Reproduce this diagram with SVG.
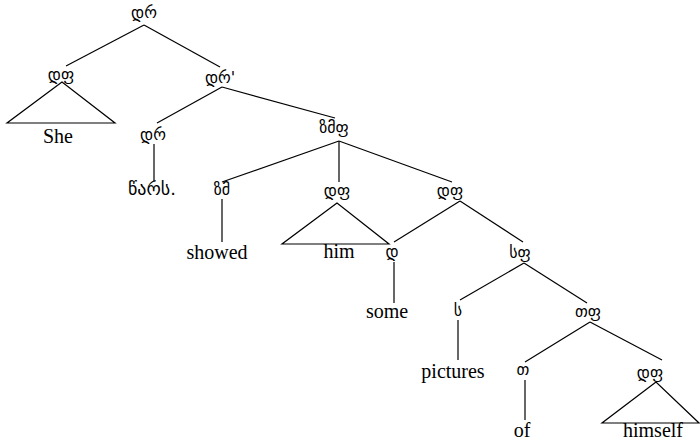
<svg xmlns="http://www.w3.org/2000/svg" width="700" height="442" viewBox="0 0 700 442">
<style>
.lbl{font-family:"DejaVu Sans",sans-serif;font-size:16px;text-anchor:middle;fill:#000}
.leaf{font-family:"Liberation Serif",serif;font-size:20px;text-anchor:middle;fill:#000}
.geo{font-family:"DejaVu Sans",sans-serif;font-size:18px;text-anchor:middle;fill:#000}
.edge{stroke:#000;stroke-width:1.2;fill:none}
</style>
<rect width="700" height="442" fill="#fff"/>
<g id="connectors">
<line class="edge" x1="144" y1="25" x2="66" y2="66"/>
<line class="edge" x1="144" y1="25" x2="220" y2="67"/>
<polygon class="edge" points="62,82 7,123 115,123"/>
<line class="edge" x1="222" y1="87" x2="157" y2="123"/>
<line class="edge" x1="222" y1="87" x2="335" y2="118"/>
<line class="edge" x1="154" y1="144" x2="154" y2="181"/>
<line class="edge" x1="339" y1="141" x2="222" y2="182"/>
<line class="edge" x1="339" y1="141" x2="339" y2="182"/>
<line class="edge" x1="339" y1="141" x2="452" y2="182"/>
<line class="edge" x1="222" y1="199" x2="222" y2="242"/>
<polygon class="edge" points="337,203 282,244 389,244"/>
<line class="edge" x1="460" y1="201" x2="394" y2="242"/>
<line class="edge" x1="460" y1="201" x2="523" y2="242"/>
<line class="edge" x1="394" y1="262" x2="394" y2="303"/>
<line class="edge" x1="524" y1="263" x2="460" y2="300"/>
<line class="edge" x1="524" y1="263" x2="587" y2="303"/>
<line class="edge" x1="458" y1="320" x2="458" y2="360"/>
<line class="edge" x1="590" y1="322" x2="525" y2="362"/>
<line class="edge" x1="590" y1="322" x2="662" y2="360"/>
<line class="edge" x1="525" y1="380" x2="525" y2="420"/>
<polygon class="edge" points="656,382 602,423 699,423"/>
</g>
<g id="n-root"><text class="lbl" x="144" y="18">დრ</text></g>
<g id="n-dp1"><text class="lbl" x="61" y="80">დფ</text></g>
<g id="n-she"><text class="leaf" x="58" y="143">She</text></g>
<g id="n-trbar"><text class="lbl" x="220" y="83">დრ'</text></g>
<g id="n-tr"><text class="lbl" x="153" y="140">დრ</text></g>
<g id="n-past"><text class="geo" x="152" y="195">წარს.</text></g>
<g id="n-vp"><text class="lbl" x="334" y="133">ზმფ</text></g>
<g id="n-v"><text class="lbl" x="222" y="195">ზმ</text></g>
<g id="n-showed"><text class="leaf" x="217" y="259">showed</text></g>
<g id="n-dp2"><text class="lbl" x="337" y="196">დფ</text></g>
<g id="n-him"><text class="leaf" x="339" y="258">him</text></g>
<g id="n-dp3"><text class="lbl" x="450" y="196">დფ</text></g>
<g id="n-d"><text class="lbl" x="392" y="257">დ</text></g>
<g id="n-some"><text class="leaf" x="387" y="318">some</text></g>
<g id="n-np"><text class="lbl" x="520" y="258">სფ</text></g>
<g id="n-n"><text class="lbl" x="458" y="316">ს</text></g>
<g id="n-pictures"><text class="leaf" x="453" y="378">pictures</text></g>
<g id="n-pp"><text class="lbl" x="588" y="317">თფ</text></g>
<g id="n-p"><text class="lbl" x="523" y="375">თ</text></g>
<g id="n-of"><text class="leaf" x="522" y="437">of</text></g>
<g id="n-dp4"><text class="lbl" x="650" y="378">დფ</text></g>
<g id="n-himself"><text class="leaf" x="653" y="437">himself</text></g>
</svg>
